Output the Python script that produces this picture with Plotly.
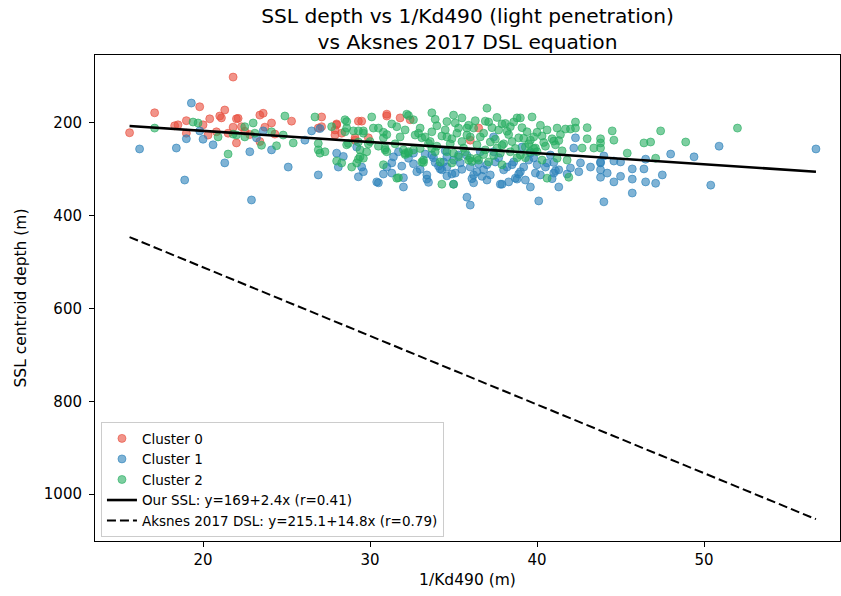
import plotly.graph_objects as go
import numpy as np

# ---- data ----
c0_x = [15.6, 17.1, 18.3, 18.5, 19.0, 19.8, 20.4, 20.0, 21.1, 21.0, 21.3, 22.0, 21.8, 20.8, 22.0, 19.0,
        21.8, 22.1, 22.3, 23.4, 23.6, 23.7, 24.1, 25.3, 23.4, 27.1, 27.1, 27.9, 28.0, 29.3, 29.1, 28.0,
        27.9, 28.3, 29.1, 29.5, 31.0, 31.8, 32.4, 29.9, 31.0, 36.5, 36.0, 22.5, 21.5, 26.9, 22.8, 20.3, 24.3]
c0_y = [221, 178, 206, 204, 195, 165, 191, 204, 189, 185, 172, 191, 209, 219, 243, 222,
        101, 190, 208, 183, 179, 209, 200, 196, 240, 187, 208, 226, 204, 196, 237, 202,
        215, 222, 232, 196, 185, 189, 193, 232, 181, 211, 237, 218, 222, 211, 225, 226, 224]

c1_x = [19.3, 16.2, 18.4, 19.0, 20.0, 20.6, 19.8, 21.3, 18.9, 22.9, 22.8, 24.1, 25.1, 23.6, 26.5, 26.1,
        26.9, 28.0, 28.4, 28.1, 29.3, 29.6, 29.2, 30.5, 31.3, 31.3, 32.0, 32.0, 31.9, 32.6, 33.4, 33.5,
        34.2, 34.6, 35.0, 35.1, 35.8, 36.0, 36.1, 33.3, 31.7, 33.8, 34.4, 32.3, 35.3, 36.4, 29.5, 30.4,
        31.4, 32.6, 33.4, 33.7, 34.1, 34.9, 34.6, 34.3, 36.2, 36.2, 36.8, 37.4, 37.9, 38.3, 38.8, 37.0,
        38.0, 37.5, 34.6, 35.4, 36.6, 38.6, 39.1, 37.4, 42.3, 42.2, 42.0, 42.6, 39.3, 39.6, 39.9, 40.2,
        41.0, 41.3, 41.3, 40.1, 39.2, 40.6, 43.8, 43.8, 44.0, 39.6, 40.8, 37.8, 38.7, 41.1, 43.8, 44.0,
        43.8, 44.2, 44.6, 45.0, 45.7, 45.7, 45.7, 46.5, 46.4, 46.5, 47.1, 47.5, 48.0, 49.4, 50.4, 50.9,
        56.7, 45.0, 44.6, 38.5, 39.5, 40.5, 36.5, 35.5, 37.2, 33.0, 30.8, 27.0, 23.2,
        33.9, 35.0, 36.0, 37.0, 38.2, 39.0, 40.0, 41.0, 41.8, 34.5, 35.8, 37.7, 39.8, 40.9, 38.9, 36.7,
        32.8, 31.0, 42.5, 43.2]
c1_y = [157, 256, 254, 234, 235, 247, 217, 286, 323, 366, 262, 258, 295, 217, 217, 237,
        312, 265, 272, 295, 316, 305, 252, 329, 308, 286, 318, 338, 293, 288, 312, 328,
        299, 314, 332, 308, 360, 377, 320, 267, 262, 275, 284, 276, 269, 305, 295, 327,
        273, 265, 321, 269, 293, 310, 295, 301, 329, 312, 301, 262, 332, 327, 321, 323,
        301, 284, 273, 286, 262, 284, 252, 230, 232, 254, 297, 286, 323, 338, 308, 312,
        308, 301, 338, 368, 295, 286, 284, 317, 370, 265, 269, 332, 319, 303, 301, 271,
        286, 308, 327, 315, 299, 321, 351, 327, 299, 278, 330, 312, 267, 273, 334, 250,
        256, 284, 282, 290, 280, 295, 288, 300, 312, 300, 310, 212, 232,
        285, 280, 295, 290, 295, 305, 290, 285, 310, 260, 270, 275, 275, 320, 310, 315,
        305, 295, 305, 295]

c2_x = [17.1, 19.4, 19.7, 20.9, 21.5, 21.8, 22.0, 22.5, 23.0, 23.5, 24.4, 24.1, 24.9, 24.8, 25.4, 26.7,
        26.9, 27.0, 26.9, 27.3, 27.7, 28.6, 28.0, 28.3, 28.9, 29.3, 29.4, 28.7, 29.6, 29.4, 28.5, 23.1,
        22.5, 28.6, 29.0, 29.3, 28.6, 29.3, 28.5, 29.2, 30.8, 31.7, 34.3, 35.0, 29.8, 31.0, 30.9, 32.1,
        33.1, 33.9, 34.9, 36.0, 36.1, 36.5, 30.1, 30.2, 29.6, 31.3, 30.8, 30.5, 32.2, 32.3, 32.6, 33.7,
        34.0, 33.7, 33.0, 32.1, 34.3, 30.9, 31.6, 29.6, 32.3, 32.1, 33.2, 33.2, 33.5, 34.2, 32.0, 32.3,
        32.6, 32.7, 33.3, 33.1, 37.0, 35.0, 35.5, 34.6, 36.9, 37.1, 36.2, 38.8, 38.6, 37.9, 38.1, 35.3,
        35.8, 34.6, 34.9, 35.8, 37.7, 38.2, 38.9, 39.2, 34.6, 35.6, 36.4, 37.2, 37.6, 38.4, 39.0, 35.9,
        37.1, 37.9, 35.3, 36.4, 39.0, 39.7, 41.2, 41.7, 42.0, 42.3, 39.4, 40.3, 40.9, 41.0, 39.6, 39.3,
        39.8, 41.1, 42.7, 43.0, 43.4, 43.8, 43.8, 41.9, 40.6, 40.3, 41.2, 41.8, 39.9, 43.8, 44.6, 45.4,
        46.4, 46.8, 47.1, 48.9, 44.5, 47.4, 52.0, 43.0, 42.3, 36.0, 36.8, 37.5, 38.0, 38.5, 39.5, 40.5,
        40.0, 35.5, 34.0, 33.0, 31.5, 31.0, 30.0, 37.8, 38.8, 36.8, 40.0, 41.5,
        34.5, 35.2, 35.9, 36.6, 37.3, 38.3, 39.1, 39.8, 40.6, 41.4, 34.8, 35.7, 36.9, 37.9, 38.7, 39.6,
        40.4, 41.3, 33.6, 32.9, 31.8, 30.5, 29.9, 36.3, 37.6, 38.4, 40.2, 35.1, 33.9, 31.6, 30.8, 39.3,
        37.4, 35.0, 33.7]
c2_y = [211, 198, 200, 230, 267, 224, 226, 230, 200, 248, 249, 219, 185, 226, 243, 187,
        244, 265, 258, 262, 208, 197, 282, 286, 295, 278, 273, 244, 222, 258, 219, 222,
        208, 211, 217, 217, 247, 241, 193, 286, 290, 318, 332, 332, 262, 262, 258, 265,
        284, 262, 286, 276, 283, 280, 187, 211, 217, 202, 232, 211, 181, 184, 193, 178,
        206, 219, 211, 215, 228, 254, 319, 276, 265, 268, 280, 285, 244, 284, 258, 262,
        258, 226, 230, 232, 168, 183, 189, 197, 196, 198, 211, 189, 198, 202, 201, 211,
        211, 230, 234, 226, 215, 218, 232, 233, 262, 254, 247, 241, 254, 262, 269, 280,
        284, 290, 273, 276, 189, 187, 211, 213, 213, 198, 219, 228, 234, 239, 237, 252,
        255, 247, 254, 234, 254, 234, 254, 317, 319, 280, 276, 280, 254, 243, 237, 265,
        243, 241, 276, 241, 217, 217, 211, 210, 211, 230, 222, 235, 245, 240, 245, 250,
        220, 240, 250, 255, 245, 225, 240, 265, 275, 268, 262, 260,
        215, 222, 205, 230, 210, 225, 210, 230, 215, 225, 245, 262, 258, 248, 255, 262,
        242, 238, 240, 222, 230, 250, 245, 195, 188, 208, 205, 200, 192, 208, 220, 275,
        270, 265, 255]

ssl_fit = (169.0, 2.4)        # intercept, slope
aksnes_fit = (215.1, 14.8)    # intercept, slope

labels = ["Cluster 0", "Cluster 1", "Cluster 2"]
colors = ["rgba(231,76,60,0.6)", "rgba(41,128,185,0.6)", "rgba(39,174,96,0.6)"]

fig = go.Figure()
for xs, ys, lab, col in zip([c0_x, c1_x, c2_x], [c0_y, c1_y, c2_y], labels, colors):
    fig.add_trace(go.Scatter(
        x=xs, y=ys, mode="markers", name=lab,
        marker=dict(size=8, color=col, line=dict(width=1, color=col)),
    ))

all_x = np.array(c0_x + c1_x + c2_x)
xl = np.array([all_x.min(), all_x.max()])
fig.add_trace(go.Scatter(x=xl, y=ssl_fit[0] + ssl_fit[1] * xl, mode="lines",
                         name="Our SSL: y=169+2.4x (r=0.41)",
                         line=dict(color="black", width=2.6)))
fig.add_trace(go.Scatter(x=xl, y=aksnes_fit[0] + aksnes_fit[1] * xl, mode="lines",
                         name="Aksnes 2017 DSL: y=215.1+14.8x (r=0.79)",
                         line=dict(color="black", width=2, dash="9px,4px")))

axis_common = dict(showline=True, linecolor="black", linewidth=1, mirror=True,
                   ticks="outside", ticklen=5, tickwidth=1, tickcolor="black",
                   showgrid=False, zeroline=False, automargin=False,
                   tickfont=dict(family="DejaVu Sans", size=15, color="black"))

fig.update_layout(
    width=841, height=596,
    margin=dict(l=95, r=1, t=55, b=55, autoexpand=False),
    paper_bgcolor="white", plot_bgcolor="white",
    font=dict(family="DejaVu Sans", color="black"),
    title=dict(text="SSL depth vs 1/Kd490 (light penetration)<br>vs Aksnes 2017 DSL equation",
               x=0.5, xref="paper", xanchor="center", y=0.962, yref="container", yanchor="middle",
               font=dict(family="DejaVu Sans", size=20.2, color="black")),
    xaxis=dict(range=[13.53, 58.14], tickvals=[20, 30, 40, 50],
               title=dict(text="1/Kd490 (m)", font=dict(size=15.5), standoff=6), **axis_common),
    yaxis=dict(range=[1101.3, 53.4], tickvals=[200, 400, 600, 800, 1000], ticklabelstandoff=4,
               title=dict(text="SSL centroid depth (m)", font=dict(size=15.5), standoff=13), **axis_common),
    legend=dict(x=0.008, y=0.008, xanchor="left", yanchor="bottom",
                bgcolor="rgba(255,255,255,0.8)", bordercolor="#cccccc", borderwidth=1,
                font=dict(family="DejaVu Sans", size=13.5, color="black"),
                tracegroupgap=0, itemwidth=30),
    showlegend=True,
)

fig.write_html("out.html", config={"displayModeBar": False},
               post_script="document.body.style.margin='0';document.body.style.overflow='hidden';")
